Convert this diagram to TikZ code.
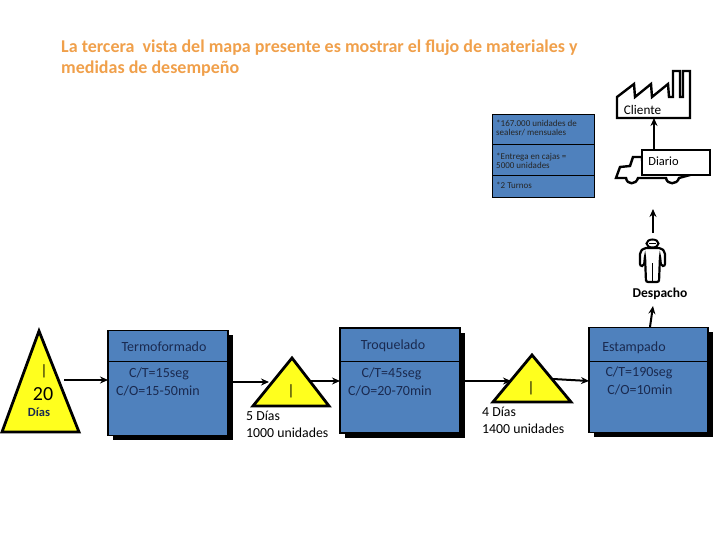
\documentclass[tikz,border=0pt]{standalone}
\usepackage{fontspec}
\setmainfont{Carlito}
\usetikzlibrary{arrows.meta,shadows}
\definecolor{boxblue}{HTML}{4F81BD}
\definecolor{navy}{HTML}{1A2A50}
\definecolor{titleor}{HTML}{F0A04B}
\definecolor{invyellow}{HTML}{FFFF1E}
\newcommand{\fs}[1]{\fontsize{#1}{#1}\selectfont}
\tikzset{
  procbox/.style={draw=black,line width=1.8pt,fill=boxblue,minimum width=#1,minimum height=105pt,outer sep=0pt,inner sep=0pt,
    general shadow={shadow xshift=4.5pt,shadow yshift=-4.5pt,fill=black}},
  divider/.style={draw=black,line width=0.6pt},
  invtri/.style={draw=black,line width=2.8pt,fill=invyellow,line join=miter},
  flow/.style={draw=black,line width=2pt,-{Stealth[length=8pt,width=7pt]}},
  boxtxt/.style={text=navy,font=\fs{14},inner sep=0pt},
  lbl/.style={text=black,font=\fs{13.8},inner sep=0pt,anchor=west},
  infotxt/.style={text=black!85,font=\fs{9},anchor=west,align=left,inner sep=0pt},
  icon/.style={draw=black,line width=2.4pt,fill=white,line join=miter},
  tag/.style={draw=black,line width=2.4pt,fill=white,inner sep=0pt,outer sep=0pt}
}
\begin{document}
\begin{tikzpicture}[x=1pt,y=-1pt]
\useasboundingbox (0,0) rectangle (720,540);
% title
\node[anchor=west,inner sep=0pt,text=titleor,font=\bfseries\fs{18}] (t1) at (61,47.5) {La tercera\ \ vista del mapa presente es mostrar el flujo de materiales y};
\node[anchor=west,inner sep=0pt,text=titleor,font=\bfseries\fs{18}] (t2) at (61,69) {medidas de desempeño};
% info box
\node[draw=black,line width=0.7pt,fill=boxblue,minimum width=102pt,minimum height=83pt,inner sep=0pt,outer sep=0pt] (info) at (543,155.5) {};
\draw[divider] (info.west |- 0,144) -- (info.east |- 0,144);
\draw[divider] (info.west |- 0,175) -- (info.east |- 0,175);
\node[infotxt] (i1) at (496,128) {*167.000 unidades de\\sealesr/ mensuales};
\node[infotxt] (i2) at (496,161) {*Entrega en cajas =\\5000 unidades};
\node[infotxt] (i3) at (496,185) {*2 Turnos};
% named ends
\coordinate (t1out) at (64,380);
\coordinate (t2in) at (232,382);
\coordinate (t2inb) at (269,382);
\coordinate (t2out) at (310,381);
\coordinate (t3in) at (465,381);
\coordinate (t3inb) at (511,381);
\coordinate (t3out) at (553,379);
\coordinate (dup) at (653,306);
\coordinate (pup) at (653,233);
\coordinate (ptop) at (653,209);
% factory
\draw[icon] (617,97) -- (634,84) -- (635,97) -- (651,84) -- (652,97) -- (668,84) -- (669,97) -- (673,97) -- (673,71) -- (680,71) -- (680,97) -- (683,97) -- (683,71) -- (690,71) -- (690,118) -- (617,118) -- cycle;
\coordinate (cli) at (654,118);
\node[font=\fs{13.2},inner sep=0pt] (cliente) at (642.5,110) {Cliente};
% truck
\draw[icon] (642,157) -- (633,157) -- (630,166) -- (620,167) -- (616,178) -- (626,178)
  .. controls (627,185) and (636,185) .. (638,178) -- (666,178) .. controls (667,185) and (677,185) .. (679,178) -- (690,175) -- (690,160) -- (642,160) -- cycle;
\node[tag,minimum width=68pt,minimum height=25pt] (diario) at (676,162.5) {};
\node[font=\fs{12.5},inner sep=0pt] (diariot) at (663.5,161) {Diario};
% person
\draw[icon,rounded corners=2pt,line width=2.2pt] (644,248) -- (661,248) -- (665,252) -- (665,266) -- (661,266) -- (660,256) -- (659,282) -- (646,282) -- (645,256) -- (644,266) -- (640,266) -- (640,252) -- cycle;
\draw[black,line width=1.8pt] (652.5,263) -- (652.5,282);
\draw[black,line width=2pt,fill=white] (652.5,243.5) ellipse[x radius=6,y radius=4];
\draw[black,line width=1.5pt] (649,243.5) -- (656,243.5);
\node[font=\bfseries\fs{13.5},inner sep=0pt] (desp) at (660,293.5) {Despacho};
% process boxes
\node[procbox=120pt] (term) at (168,383) {};
\node[procbox=120pt] (troq) at (400,380.5) {};
\node[procbox=119pt] (esta) at (648.5,380) {};
\draw[divider] (term.west |- 0,361) -- (term.east |- 0,361);
\draw[divider] (troq.west |- 0,361) -- (troq.east |- 0,361);
\draw[divider] (esta.west |- 0,361) -- (esta.east |- 0,361);
\node[boxtxt] (a1) at (164,347) {Termoformado};
\node[boxtxt] (a2) at (159,374) {C/T=15seg};
\node[boxtxt] (a3) at (158,391) {C/O=15-50min};
\node[boxtxt] (b1) at (393,346) {Troquelado};
\node[boxtxt] (b2) at (391.5,373.5) {C/T=45seg};
\node[boxtxt] (b3) at (390,390.5) {C/O=20-70min};
\node[boxtxt] (c1) at (634,348) {Estampado};
\node[boxtxt] (c2) at (639,372.5) {C/T=190seg};
\node[boxtxt] (c3) at (640,389.5) {C/O=10min};
% connectors
\draw[flow] (t1out) -- (term.west |- t1out);
\draw[flow] (t2in) -- (t2inb);
\draw[flow] (t2out) -- (troq.west |- t2out);
\draw[flow] (t3in) -- (t3inb);
\draw[flow] (t3out) -- (esta.west |- 0,381);
\draw[flow] (650,327) -- (dup);
\draw[flow] (pup) -- (ptop);
\draw[flow] (diario.north -| cli) -- (cli);
% triangles
\draw[invtri] (39,331) -- (79,432) -- (2,432) -- cycle;
\draw[invtri] (292,358) -- (329,406) -- (253,406) -- cycle;
\draw[invtri] (532,355) -- (571,402) -- (493,402) -- cycle;
\node[font=\fs{15},inner sep=0pt] (ti1) at (44,371) {|};
\node[font=\fs{20},inner sep=0pt] (n20) at (43,394) {20};
\node[font=\bfseries\fs{12.5},text=navy,inner sep=0pt] (d20) at (39,412) {Días};
\node[font=\fs{15},inner sep=0pt] (ti2) at (291,391) {|};
\node[font=\fs{15},inner sep=0pt] (ti3) at (531,388) {|};
\node[lbl] (l1) at (246,416) {5 Días};
\node[lbl] (l2) at (246,433) {1000 unidades};
\node[lbl] (l3) at (482,412) {4 Días};
\node[lbl] (l4) at (482,429) {1400 unidades};
\end{tikzpicture}
\end{document}
